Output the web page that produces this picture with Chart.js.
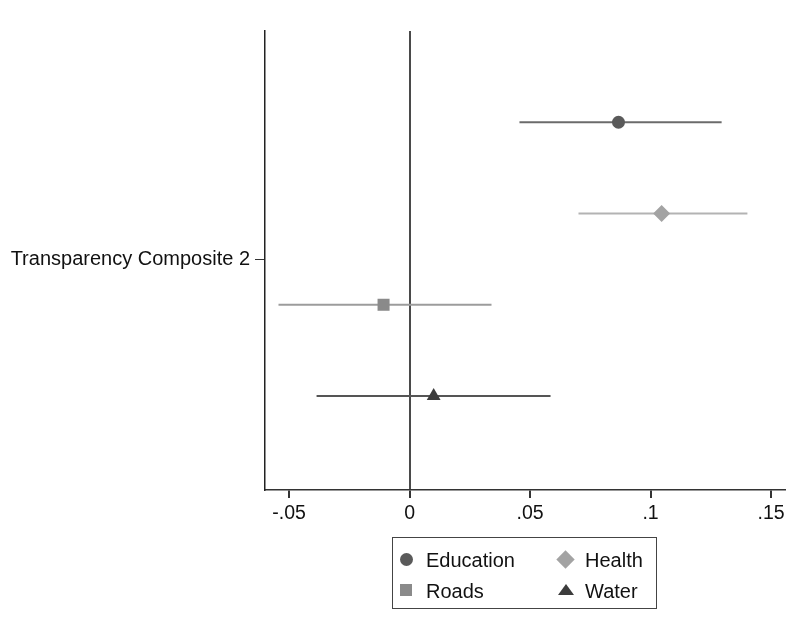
<!DOCTYPE html>
<html>
<head>
<meta charset="utf-8">
<script src="https://cdn.jsdelivr.net/npm/chart.js@4.4.0/dist/chart.umd.min.js"></script>
<style>
    html, body { margin: 0; padding: 0; background: #fff; }
    #wrap { position: relative; width: 796px; height: 635px; }
    #legend {
        position: absolute; left: 392px; top: 537px; width: 265px; height: 72px;
        border: 1px solid #444; box-sizing: border-box;
        font-family: 'Liberation Sans', Arial, sans-serif; font-size: 20px; color: #111;
    }
    .item { position: absolute; height: 24px; line-height: 24px; }
    .sym { position: absolute; }
    .txt { position: absolute; white-space: nowrap; }
</style>
</head>
<body>
<div id="wrap">
    <canvas id="coefChart" width="796" height="635"></canvas>
    <div id="legend"></div>
</div>
<script>
// ── Data ──────────────────────────────────────────────────

const groups = ['Education', 'Health', 'Roads', 'Water'];
const estimates = [0.0867, 0.1046, -0.0108, 0.0100];
const lowerCI = [0.0456, 0.0701, -0.0544, -0.0386];
const upperCI = [0.1295, 0.1402, 0.0340, 0.0585];
const yLabel = 'Transparency Composite 2';
const xTickValues = [-0.05, 0, 0.05, 0.1, 0.15];
const xTickLabels = ['-.05', '0', '.05', '.1', '.15'];

// ── Styles ────────────────────────────────────────────────

const pointColors = ['#5a5a5a', '#a3a3a3', '#8a8a8a', '#3c3c3c'];
const lineColors = ['#6b6b6b', '#b3b3b3', '#9c9c9c', '#555555'];
const pointStyles = ['circle', 'rectRot', 'rect', 'triangle'];
const pointSizes = [6.5, 8.5, 8.5, 8];
const FONT = "'Liberation Sans', Arial, sans-serif";

// ── Chart ─────────────────────────────────────────────────

function buildDatasets() {
    const sets = [];
    groups.forEach((g, i) => {
        // confidence interval
        sets.push({
            label: g + ' CI',
            data: [{ x: lowerCI[i], y: i + 1 }, { x: upperCI[i], y: i + 1 }],
            showLine: true,
            borderColor: lineColors[i],
            borderWidth: 2,
            pointRadius: 0,
            order: 2
        });
        // point estimate
        sets.push({
            label: g,
            data: [{ x: estimates[i], y: i + 1 }],
            pointStyle: pointStyles[i],
            pointRadius: pointSizes[i],
            backgroundColor: pointColors[i],
            borderColor: pointColors[i],
            borderWidth: 0,
            order: 1
        });
    });
    return sets;
}

const ctx = document.getElementById('coefChart').getContext('2d');
new Chart(ctx, {
    type: 'scatter',
    data: { datasets: buildDatasets() },
    options: {
        responsive: false,
        animation: false,
        layout: { padding: { top: 31, right: 11, left: 0, bottom: 105 } },
        plugins: {
            legend: { display: false },
            tooltip: { enabled: false }
        },
        scales: {
            x: {
                type: 'linear',
                min: -0.06,
                max: 0.1558,
                afterBuildTicks: s => { s.ticks = xTickValues.map(v => ({ value: v })); },
                afterFit: s => { s.height = 40; },
                ticks: {
                    color: '#111',
                    font: { family: FONT, size: 19.5 },
                    padding: 4,
                    maxRotation: 0,
                    callback: (v, i) => xTickLabels[i]
                },
                grid: {
                    drawOnChartArea: true,
                    color: c => (c.tick && c.tick.value === 0) ? '#4a4a4a' : 'rgba(0,0,0,0)',
                    lineWidth: 2,
                    tickColor: '#333',
                    tickLength: 8
                },
                border: { display: true, color: '#333', width: 1.5 }
            },
            y: {
                type: 'linear',
                min: 0,
                max: 5.03,
                reverse: true,
                afterBuildTicks: s => { s.ticks = [{ value: 2.5 }]; },
                afterFit: s => { s.width = 265; },
                ticks: {
                    color: '#111',
                    font: { family: FONT, size: 20 },
                    padding: 5,
                    callback: () => yLabel
                },
                grid: {
                    drawOnChartArea: false,
                    tickColor: '#333',
                    tickLength: 10
                },
                border: { display: true, color: '#222', width: 1.5 }
            }
        }
    }
});

// ── Legend ────────────────────────────────────────────────

function symbolHtml(i) {
    const c = pointColors[i];
    switch (pointStyles[i]) {
        case 'circle':
            return `<span class="sym" style="left:7px;top:5px;width:13px;height:13px;border-radius:50%;background:${c}"></span>`;
        case 'rectRot':
            return `<span class="sym" style="left:7px;top:5px;width:13px;height:13px;background:${c};transform:rotate(45deg)"></span>`;
        case 'rect':
            return `<span class="sym" style="left:7px;top:5px;width:12px;height:12px;background:${c}"></span>`;
        default:
            return `<span class="sym" style="left:6px;top:5px;width:0;height:0;border-left:8px solid transparent;border-right:8px solid transparent;border-bottom:11px solid ${c}"></span>`;
    }
}

function renderLegend() {
    const box = document.getElementById('legend');
    const cols = [0, 159];
    const rows = [10, 41];
    groups.forEach((g, i) => {
        const div = document.createElement('div');
        div.className = 'item';
        div.style.left = cols[i % 2] + 'px';
        div.style.top = rows[Math.floor(i / 2)] + 'px';
        div.innerHTML = symbolHtml(i) + `<span class="txt" style="left:33px">${g}</span>`;
        box.appendChild(div);
    });
}

renderLegend();
</script>
</body>
</html>
